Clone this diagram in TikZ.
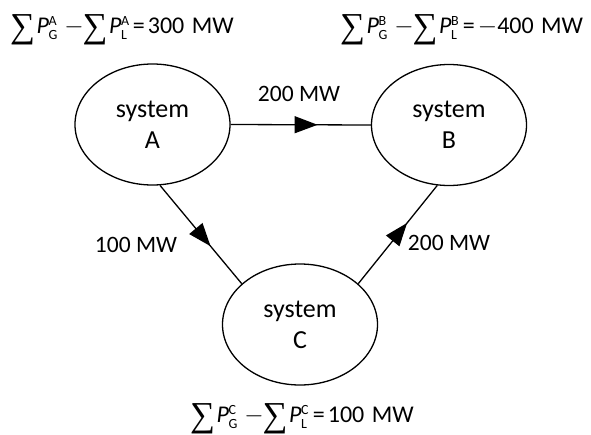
\documentclass[tikz,border=0pt]{standalone}
\usepackage{fontspec}
\setmainfont{Carlito}
\newfontfamily\sumfont{Liberation Serif}
\usetikzlibrary{arrows.meta,decorations.markings,shapes.geometric}
\newcommand\pwrsum[2]{\raisebox{-4pt}{\sumfont\fontsize{35}{36}\selectfont ∑}\kern1.5pt\textit{P}\kern-0.5pt\makebox[0pt][l]{\raisebox{0.3em}{\fontsize{14}{15}\selectfont #2}}\raisebox{-0.28em}{\fontsize{14}{15}\selectfont #1}}
\begin{document}
\begin{tikzpicture}[x=1pt,y=-1pt,
  sys/.style={draw,ellipse,line width=1.3pt,minimum width=155pt,minimum height=121pt,inner sep=0pt,align=center,font=\fontsize{26}{31}\selectfont},
  lbl/.style={font=\fontsize{23.5}{28}\selectfont,inner sep=0pt},
  eqn/.style={font=\fontsize{24}{28}\selectfont,inner sep=0pt,anchor=base west},
  flow/.style={line width=1.3pt,postaction={decorate},decoration={markings,mark=at position 0.62 with {\arrow{Triangle[length=23pt,width=17pt]}}}}]
\useasboundingbox (0,0) rectangle (591,434);
\node[sys] (A) at (152.5,124.5) {system\\A};
\node[sys] (B) at (449,125) {system\\B};
\node[sys] (C) at (300,324.5) {system\\C};
\draw[flow] (A.east) -- (B.west);
\draw[flow] (A.-83) -- (C.145);
\draw[flow] (C.35.6) -- (B.-101);
\node[lbl] (l1) at (299,94) {200 MW};
\node[lbl] (l2) at (136,245) {100 MW};
\node[lbl] (l3) at (449,243) {200 MW};
\node[eqn] (eA) at (10,33) {\pwrsum{G}{A}\hspace{7pt}$-$\kern-1pt\pwrsum{L}{A}\hspace{6pt}=\hspace{3pt}300\ \kern2pt MW};
\node[eqn] (eB) at (340,33) {\pwrsum{G}{B}\hspace{7pt}$-$\kern-1pt\pwrsum{L}{B}\hspace{6pt}=\hspace{3pt}$-$400\ \kern2pt MW};
\node[eqn] (eC) at (190,422) {\pwrsum{G}{C}\hspace{7pt}$-$\kern-1pt\pwrsum{L}{C}\hspace{6pt}=\hspace{3pt}100\ \kern2pt MW};
\end{tikzpicture}
\end{document}
